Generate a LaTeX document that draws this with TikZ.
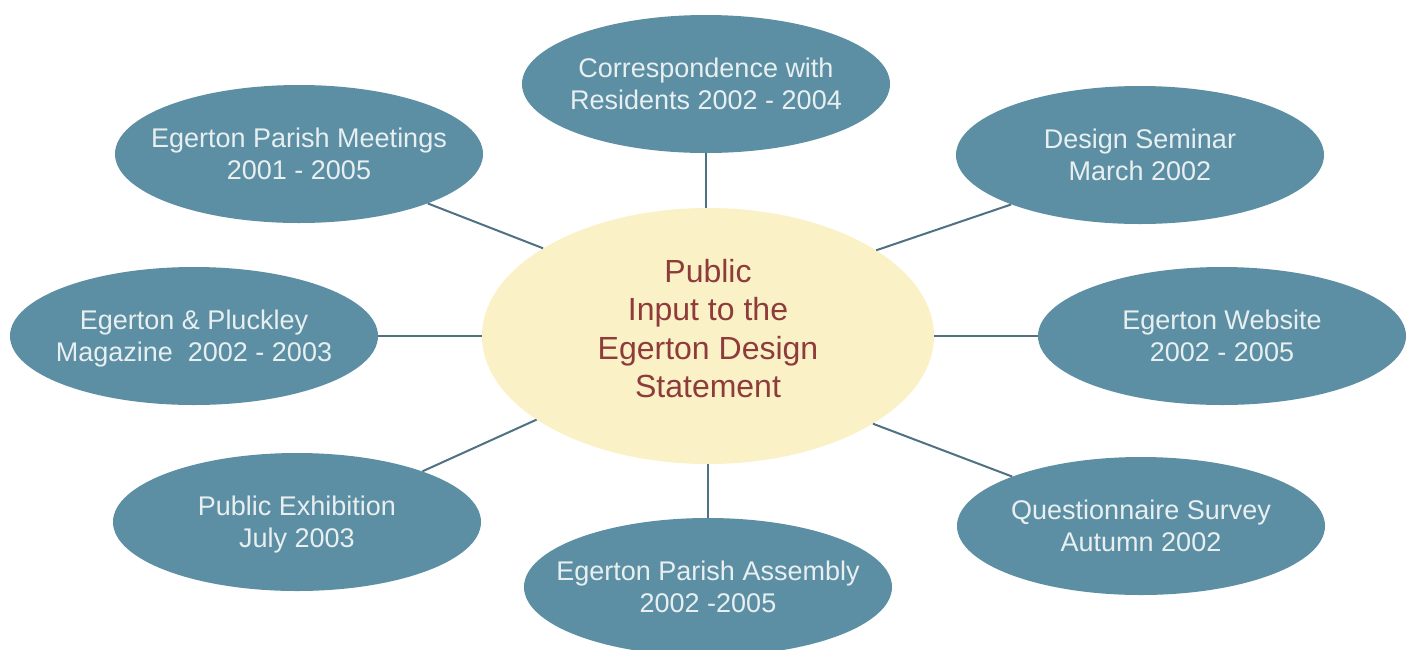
\documentclass[tikz,border=0pt]{standalone}
\usepackage{fontspec}
\setmainfont{Liberation Sans}
\usetikzlibrary{shapes.geometric}
\definecolor{tealfill}{HTML}{5C8FA3}
\definecolor{lighttext}{HTML}{E8EFF1}
\definecolor{centrefill}{HTML}{FBF1C6}
\definecolor{centretext}{HTML}{8E3B3B}
\definecolor{linkcol}{HTML}{4F7283}
\newcommand\twolines[2]{\makebox[0pt]{\begin{tabular}[t]{@{}c@{}}#1\\#2\end{tabular}}}
\begin{document}
\begin{tikzpicture}[x=1pt,y=-1pt,
  outer/.style={ellipse, fill=tealfill, text=lighttext, inner sep=0pt,
    minimum width=368pt, minimum height=138pt,
    text height=0pt, text depth=14pt,
    font=\fontsize{27}{32}\selectfont},
  centre/.style={ellipse, fill=centrefill, text=centretext, inner sep=0pt,
    minimum width=452pt, minimum height=256pt,
    text height=0pt, text depth=108pt,
    font=\fontsize{32}{38.5}\selectfont},
  link/.style={draw=linkcol, line width=2pt}]
\useasboundingbox[fill=white] (0,0) rectangle (1413,649);

\node[centre] (c) at (708,336) {\makebox[0pt]{\begin{tabular}[t]{@{}c@{}}Public\\Input to the\\Egerton Design\\Statement\end{tabular}}};

\node[outer] (corr) at (706,84)  {\twolines{Correspondence with}{Residents 2002 - 2004}};
\node[outer] (pm)   at (299,154) {\twolines{Egerton Parish Meetings}{2001 - 2005}};
\node[outer] (ds)   at (1140,155) {\twolines{Design Seminar}{March 2002}};
\node[outer] (pl)   at (194,336) {\twolines{Egerton \& Pluckley}{Magazine\ \ 2002 - 2003}};
\node[outer] (web)  at (1222,336) {\twolines{Egerton Website}{2002 - 2005}};
\node[outer] (ex)   at (297,522) {\twolines{Public Exhibition}{July 2003}};
\node[outer] (as)   at (708,587) {\twolines{Egerton Parish Assembly}{2002 -2005}};
\node[outer] (qs)   at (1141,526) {\twolines{Questionnaire Survey}{Autumn 2002}};

\draw[link] (corr.south) -- (c.north -| corr.south);
\draw[link] (as.north) -- (c.south);
\draw[link] (pl.east) -- (c.west);
\draw[link] (c.east) -- (web.west);
\draw[link] (pm.-21) -- (c.152);
\draw[link] (c.27) -- (ds.201);
\draw[link] (ex.22) -- (c.206);
\draw[link] (c.332) -- (qs.159);
\end{tikzpicture}
\end{document}
